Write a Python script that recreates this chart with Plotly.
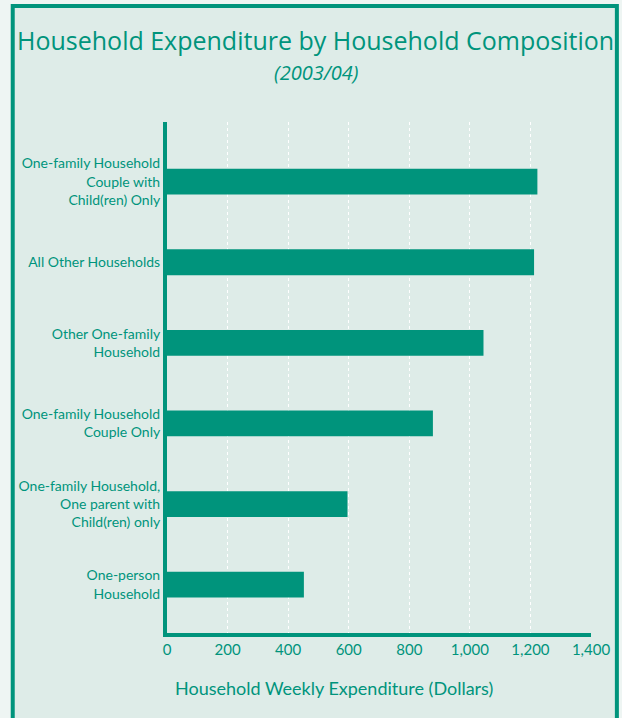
import plotly.graph_objects as go

categories = [
    "One-person<br>Household",
    "One-family Household,<br>One parent with<br>Child(ren) only",
    "One-family Household<br>Couple Only",
    "Other One-family<br>Household",
    "All Other Households",
    "One-family Household<br>Couple with<br>Child(ren) Only",
]
values = [452, 596, 878, 1045, 1212, 1223]
x_ticks = [0, 200, 400, 600, 800, 1000, 1200, 1400]

TEAL = "#00947C"
BG = "#DEECE8"
OUT = "#EEF5F3"

W_PX, H_PX = 622, 718
L, R, T, B = 167, 29, 122, 85
PW = W_PX - L - R
PH = H_PX - T - B

def px(x):
    return (x - L) / PW

def py(y):
    return 1 - (y - T) / PH

fig = go.Figure(go.Bar(
    x=values, y=categories, orientation="h",
    marker=dict(color=TEAL, line=dict(width=0)),
    width=0.32,
))

font = "Lato, 'Gill Sans', 'Noto Sans', sans-serif"

fig.update_layout(
    width=W_PX, height=H_PX,
    margin=dict(l=L, r=R, t=T, b=B, pad=0),
    paper_bgcolor=OUT,
    plot_bgcolor="rgba(0,0,0,0)",
    showlegend=False,
    font=dict(family=font, color=TEAL, size=14),
    xaxis=dict(
        range=[0, 1400], tickvals=x_ticks, tickformat=",",
        showgrid=True, gridcolor="white", griddash="3px,3px", gridwidth=1,
        showline=True, linecolor=TEAL, linewidth=4,
        zeroline=False, ticks="", tickfont=dict(size=15, color=TEAL),
        fixedrange=True,
    ),
    yaxis=dict(
        range=[-0.6, 5.74], showgrid=False,
        showline=True, linecolor=TEAL, linewidth=4,
        ticks="", tickfont=dict(size=14, color=TEAL),
        ticklabelstandoff=0,
        fixedrange=True,
    ),
    shapes=[
        dict(type="rect", xref="paper", yref="paper", layer="below",
             x0=px(12), x1=px(619), y0=py(6), y1=py(730),
             fillcolor=BG, line=dict(color=TEAL, width=4)),
    ],
    annotations=[
        dict(text="Household Expenditure by Household Composition",
             xref="paper", yref="paper", x=px(316), y=py(40),
             showarrow=False, xanchor="center", yanchor="middle",
             font=dict(family="'Open Sans', 'Noto Sans', sans-serif", size=25, color=TEAL)),
        dict(text="<i>(2003/04)</i>",
             xref="paper", yref="paper", x=px(317), y=py(72),
             showarrow=False, xanchor="center", yanchor="middle",
             font=dict(family="'Open Sans', 'Noto Sans', sans-serif", size=20, color=TEAL)),
        dict(text="Household Weekly Expenditure (Dollars)",
             xref="paper", yref="paper", x=px(335), y=py(688),
             showarrow=False, xanchor="center", yanchor="middle",
             font=dict(family=font, size=18, color=TEAL)),
    ],
)

fig.write_html("out.html")
